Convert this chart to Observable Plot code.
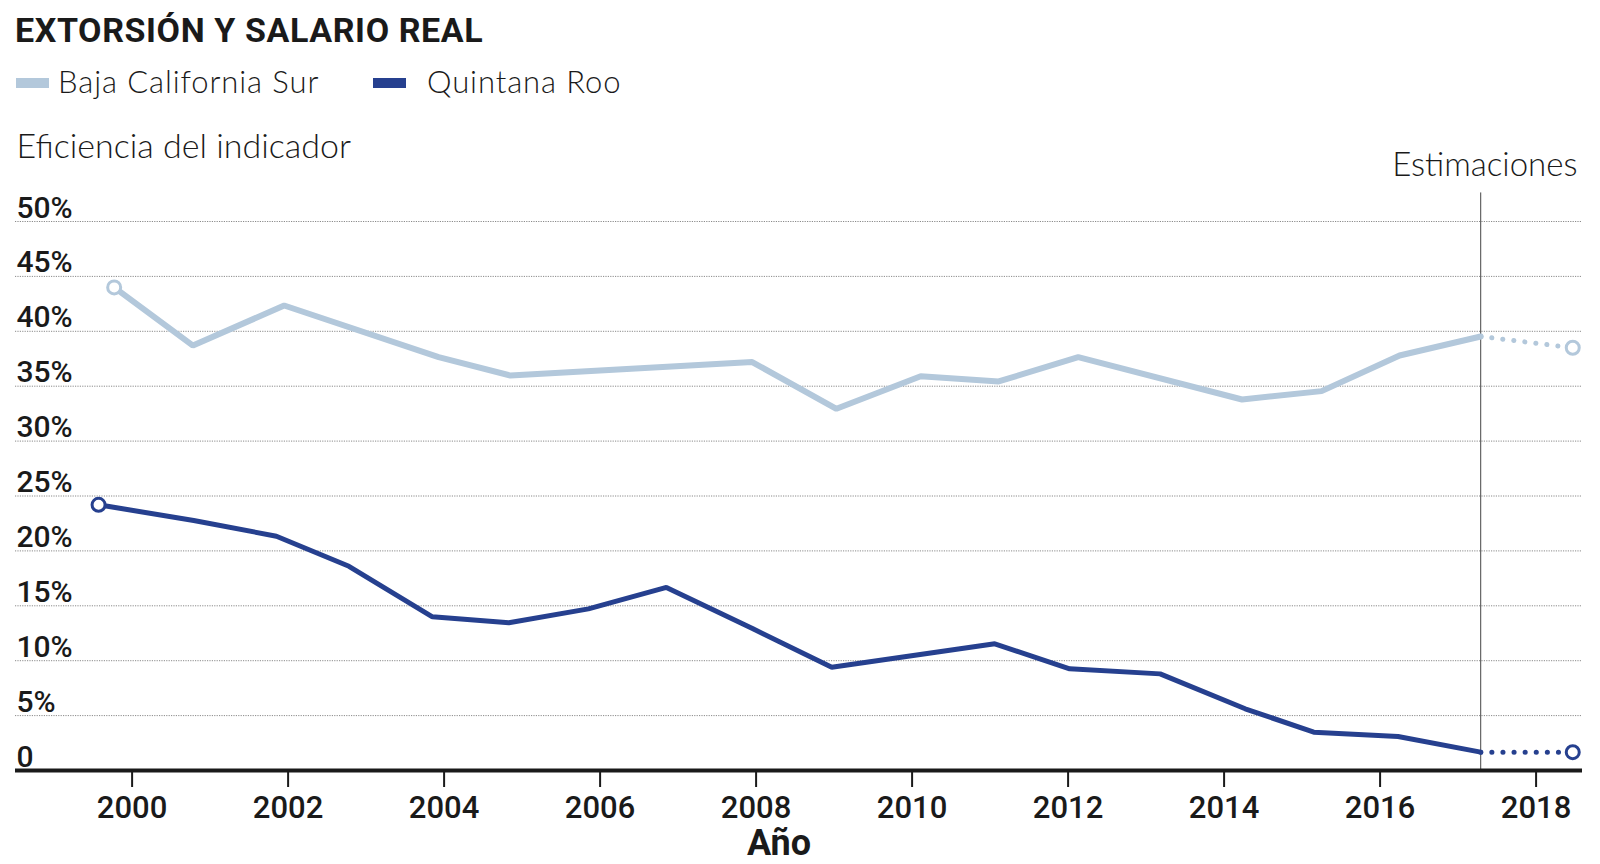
<!DOCTYPE html>
<html>
<head>
<meta charset="utf-8">
<script src="https://cdn.jsdelivr.net/npm/d3@7"></script>
<script src="https://cdn.jsdelivr.net/npm/@observablehq/plot@0.6"></script>
<style>
  html, body { margin: 0; padding: 0; background: #fff; }
  #wrap { position: relative; width: 1600px; height: 864px; overflow: hidden; color: #1a1a1a; }
  #title { position: absolute; left: 15px; top: 13px; font: 700 34px/34px Roboto, sans-serif; letter-spacing: 0.6px; white-space: nowrap; }
  .lg { position: absolute; top: 66px; font: 300 31px/31px Lato, sans-serif; letter-spacing: 0.9px; white-space: nowrap; }
  .sw { position: absolute; top: 78px; width: 33px; height: 10px; }
  #chart { position: absolute; left: 0; top: 105px; }
</style>
</head>
<body>
<div id="wrap">
  <div id="title">EXTORSIÓN Y SALARIO REAL</div>
  <div class="sw" id="sw1" style="left:16px"></div>
  <div class="lg" id="lg1" style="left:58px"></div>
  <div class="sw" id="sw2" style="left:373px"></div>
  <div class="lg" id="lg2" style="left:427px"></div>
  <div id="chart"></div>
</div>
<script>
// ---- data ----
const seriesNames = ["Baja California Sur", "Quintana Roo"];
const seriesColors = ["#b3c8db", "#26408f"];

const bcsYears  = [1999.77, 2000.78, 2001.95, 2003.93, 2004.85, 2007.95, 2009.03, 2010.11, 2011.11, 2012.13, 2014.23, 2015.25, 2016.25, 2017.29];
const bcsValues = [44.0, 38.7, 42.35, 37.64, 35.97, 37.2, 32.94, 35.91, 35.43, 37.64, 33.79, 34.55, 37.8, 39.53];
const bcsEstYear = 2018.47;
const bcsEstValue = 38.5;

const qrYears  = [1999.57, 2000.79, 2001.85, 2002.78, 2003.85, 2004.83, 2005.85, 2006.85, 2007.96, 2008.97, 2011.06, 2012.02, 2013.18, 2014.27, 2015.15, 2016.23, 2017.29];
const qrValues = [24.2, 22.77, 21.34, 18.6, 14.0, 13.45, 14.72, 16.67, 12.9, 9.41, 11.54, 9.26, 8.8, 5.62, 3.49, 3.1, 1.67];
const qrEstYear = 2018.47;
const qrEstValue = 1.67;

const estimateStart = 2017.29;
const estimateLineTop = 52.6;

const xTicks = [2000, 2002, 2004, 2006, 2008, 2010, 2012, 2014, 2016, 2018];
const yTicks = [0, 5, 10, 15, 20, 25, 30, 35, 40, 45, 50];
const yTickLabels = ["0", "5%", "10%", "15%", "20%", "25%", "30%", "35%", "40%", "45%", "50%"];

const titleText = "EXTORSIÓN Y SALARIO REAL";
const yLabel = "Eficiencia del indicador";
const xLabel = "Año";
const estLabel = "Estimaciones";

// ---- build tables ----
const bcs = bcsYears.map((x, i) => ({x, y: bcsValues[i]}));
const qr = qrYears.map((x, i) => ({x, y: qrValues[i]}));
const bcsEst = [bcs[bcs.length - 1], {x: bcsEstYear, y: bcsEstValue}];
const qrEst = [qr[qr.length - 1], {x: qrEstYear, y: qrEstValue}];
const bcsEnds = [bcs[0], bcsEst[1]];
const qrEnds = [qr[0], qrEst[1]];
const yLab = yTicks.map((v, i) => ({v, t: yTickLabels[i]}));

document.getElementById("title").textContent = titleText;
document.getElementById("lg1").textContent = seriesNames[0];
document.getElementById("lg2").textContent = seriesNames[1];
document.getElementById("sw1").style.background = seriesColors[0];
document.getElementById("sw2").style.background = seriesColors[1];

const ink = "#1a1a1a";

const chart = Plot.plot({
  width: 1600,
  height: 759,
  marginLeft: 15,
  marginRight: 18,
  marginTop: 116,
  marginBottom: 94,
  x: {domain: [1998.505, 2018.595]},
  y: {domain: [0, 50], axis: null},
  style: {fontFamily: "Roboto, sans-serif", color: ink, background: "white", overflow: "visible"},
  marks: [
    Plot.ruleY(yTicks.filter(d => d > 0), {stroke: "#8a8a8a", strokeWidth: 1, strokeDasharray: "1.2 1.2"}),
    Plot.text(yLab, {y: "v", text: "t", frameAnchor: "left", textAnchor: "start", lineAnchor: "bottom", dx: 1, dy: -4, fontSize: 30, fontWeight: 500, fill: ink}),
    Plot.ruleX([estimateStart], {y1: 0, y2: estimateLineTop, stroke: "#444", strokeWidth: 1}),
    Plot.text([estLabel], {frameAnchor: "top-right", textAnchor: "end", lineAnchor: "bottom", dx: -5, dy: -46, fontSize: 33, fontWeight: 300, fontFamily: "Lato, sans-serif", letterSpacing: "0.6px", fill: ink}),
    Plot.text([yLabel], {frameAnchor: "top-left", textAnchor: "start", lineAnchor: "bottom", dx: 1, dy: -64, fontSize: 34, fontWeight: 300, fontFamily: "Lato, sans-serif", letterSpacing: "1.9px", fill: ink}),
    Plot.line(bcs, {x: "x", y: "y", stroke: seriesColors[0], strokeWidth: 6, strokeLinejoin: "miter"}),
    Plot.line(bcsEst, {x: "x", y: "y", stroke: seriesColors[0], strokeWidth: 5, strokeDasharray: "0.1 11", strokeLinecap: "round"}),
    Plot.line(qr, {x: "x", y: "y", stroke: seriesColors[1], strokeWidth: 5, strokeLinejoin: "miter"}),
    Plot.line(qrEst, {x: "x", y: "y", stroke: seriesColors[1], strokeWidth: 5, strokeDasharray: "0.1 11", strokeLinecap: "round"}),
    Plot.dot(bcsEnds, {x: "x", y: "y", r: 6.5, stroke: seriesColors[0], strokeWidth: 3, fill: "white"}),
    Plot.dot(qrEnds, {x: "x", y: "y", r: 6.5, stroke: seriesColors[1], strokeWidth: 3, fill: "white"}),
    Plot.ruleY([0], {stroke: ink, strokeWidth: 4}),
    Plot.axisX(xTicks, {tickSize: 17, tickPadding: 8, strokeWidth: 2, stroke: ink, fontSize: 31, fontWeight: 500, fill: ink, tickFormat: d => String(d), label: null}),
    Plot.text([xLabel], {frameAnchor: "bottom", textAnchor: "middle", lineAnchor: "bottom", dx: -20, dy: 84, fontSize: 36, fontWeight: 700, fill: ink})
  ]
});
document.getElementById("chart").appendChild(chart);
</script>
</body>
</html>
